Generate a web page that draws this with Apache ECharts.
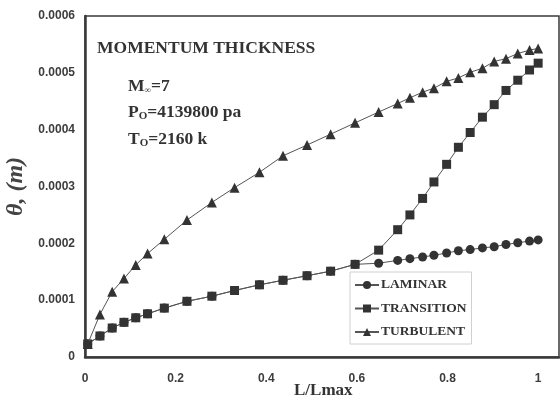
<!DOCTYPE html>
<html>
<head>
<meta charset="utf-8">
<script src="https://cdn.jsdelivr.net/npm/echarts@6/dist/echarts.min.js"></script>
<style>html,body{margin:0;padding:0;background:#fff}#c{width:560px;height:398px}</style>
</head>
<body>
<div id="c"></div>
<script>
const xValues = [0.006, 0.033, 0.06, 0.086, 0.112, 0.138, 0.175, 0.225, 0.28, 0.33, 0.385, 0.437, 0.49, 0.542, 0.596, 0.648, 0.69, 0.717, 0.745, 0.77, 0.798, 0.824, 0.85, 0.877, 0.903, 0.929, 0.955, 0.981, 1.0];
const laminar = [0.000023, 0.000037, 0.000051, 0.000061, 0.000069, 0.000076, 0.000086, 0.000098, 0.000107, 0.000117, 0.000127, 0.000135, 0.000143, 0.000151, 0.000163, 0.000165, 0.000170, 0.000173, 0.000176, 0.000179, 0.000183, 0.000187, 0.000189, 0.000192, 0.000194, 0.000198, 0.000201, 0.000204, 0.000206];
const transition = [0.000023, 0.000037, 0.000051, 0.000061, 0.000069, 0.000076, 0.000086, 0.000098, 0.000107, 0.000117, 0.000127, 0.000135, 0.000143, 0.000151, 0.000163, 0.000188, 0.000224, 0.000250, 0.000279, 0.000308, 0.000339, 0.000369, 0.000395, 0.000422, 0.000444, 0.000469, 0.000487, 0.000505, 0.000517];
const turbulent = [0.000023, 0.000075, 0.000115, 0.000138, 0.000162, 0.000182, 0.000207, 0.000241, 0.000272, 0.000298, 0.000325, 0.000354, 0.000373, 0.000392, 0.000412, 0.000431, 0.000446, 0.000456, 0.000466, 0.000473, 0.000485, 0.000491, 0.000501, 0.000508, 0.000520, 0.000525, 0.000534, 0.000540, 0.000543];
const seriesNames = ['LAMINAR', 'TRANSITION', 'TURBULENT'];
const xTicks = [0, 0.2, 0.4, 0.6, 0.8, 1];
const yTicks = [0, 0.0001, 0.0002, 0.0003, 0.0004, 0.0005, 0.0006];

const pair = (ys) => xValues.map((x, i) => [x, ys[i]]);
const serif = '"Liberation Serif", "DejaVu Serif", serif';
const sans = '"Liberation Sans", Arial, sans-serif';
const lineStyle = { color: '#555', width: 1 };
const itemStyle = { color: '#333' };
const sub = (fs) => ({ b: { font: 'bold 17.5px ' + serif, fill: '#333' }, s: { font: 'bold ' + fs + 'px ' + serif, fill: '#333', verticalAlign: 'bottom', padding: [9, 0, 0, 0] } });

const chart = echarts.init(document.getElementById('c'), null, { renderer: 'canvas' });
chart.setOption({
  animation: false,
  backgroundColor: '#fff',
  grid: { left: 85, right: 1, top: 16, bottom: 41, containLabel: false, outerBoundsMode: 'none', show: true, borderColor: '#3a3a3a', borderWidth: 1.5, backgroundColor: 'transparent' },
  xAxis: {
    type: 'value', min: 0, max: 1.046, interval: 0.2,
    axisLine: { lineStyle: { color: '#3a3a3a', width: 2.5 } },
    axisTick: { show: false },
    splitLine: { show: false },
    axisLabel: {
      showMaxLabel: false, margin: 16, color: '#3d3d3d', fontFamily: sans, fontWeight: 'bold', fontSize: 12,
      formatter: v => xTicks.some(t => Math.abs(t - v) < 1e-9) ? String(+v.toFixed(1)) : ''
    }
  },
  yAxis: {
    type: 'value', min: 0, max: 0.0006, interval: 0.0001,
    name: 'θ, (m)', nameLocation: 'middle', nameGap: 51,
    nameTextStyle: { fontFamily: serif, fontStyle: 'italic', fontWeight: 'bold', fontSize: 24, color: '#444' },
    axisLine: { show: true, lineStyle: { color: '#3a3a3a', width: 2.5 } },
    axisTick: { show: false },
    splitLine: { show: false },
    axisLabel: {
      margin: 10, color: '#3d3d3d', fontFamily: sans, fontWeight: 'bold', fontSize: 12,
      formatter: v => { const t = yTicks.find(k => Math.abs(k - v) < 1e-12); return t === undefined ? '' : (t === 0 ? '0' : t.toFixed(4)); }
    }
  },
  legend: {
    orient: 'vertical', left: 350, top: 272, itemWidth: 24, itemHeight: 10, itemGap: 9.5,
    padding: [6, 5, 5, 4], borderColor: '#d0d0d0', borderWidth: 1, backgroundColor: '#fff',
    textStyle: { fontFamily: serif, fontWeight: 'bold', fontSize: 13.5, color: '#333', padding: [0, 0, 0, -3] },
    data: seriesNames
  },
  series: [
    { name: seriesNames[0], type: 'line', data: pair(laminar), symbol: 'circle', symbolSize: 9, lineStyle, itemStyle, z: 2 },
    { name: seriesNames[1], type: 'line', data: pair(transition), symbol: 'rect', symbolSize: 9, lineStyle, itemStyle, z: 3 },
    { name: seriesNames[2], type: 'line', data: pair(turbulent), symbol: 'triangle', symbolSize: 10, lineStyle, itemStyle, z: 4 }
  ],
  graphic: [
    { type: 'text', left: 97, top: 39, style: { text: 'MOMENTUM THICKNESS', font: 'bold 17.5px ' + serif, fill: '#333' } },
    { type: 'text', left: 128, top: 77, style: { text: '{b|M}{s|∞}{b|=7}', rich: sub(9) } },
    { type: 'text', left: 128, top: 103, style: { text: '{b|P}{s|O}{b|=4139800 pa}', rich: sub(11) } },
    { type: 'text', left: 128, top: 130, style: { text: '{b|T}{s|O}{b|=2160 k}', rich: sub(11) } },
    { type: 'text', left: 294, top: 382, style: { text: 'L/Lmax', font: 'bold 17px ' + serif, fill: '#333' } }
  ]
});
</script>
</body>
</html>
